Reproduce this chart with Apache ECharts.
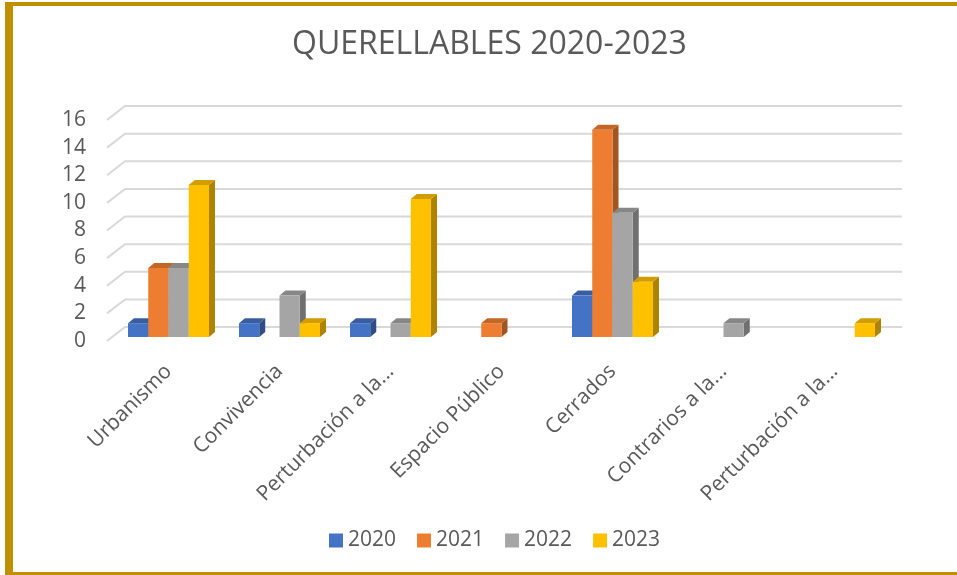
<!DOCTYPE html>
<html>
<head>
<meta charset="utf-8">
<script src="https://cdn.jsdelivr.net/npm/echarts@6/dist/echarts.min.js"></script>
<style>
  html, body { margin: 0; padding: 0; background: #fff; }
  #chart { width: 957px; height: 575px; }
</style>
</head>
<body>
<div id="chart"></div>
<script>
const categories = ['Urbanismo', 'Convivencia', 'Perturbación a la...', 'Espacio Público', 'Cerrados', 'Contrarios a la...', 'Perturbación a la...']
const years = ['2020', '2021', '2022', '2023']
const v2020 = [1, 1, 1, 0, 3, 0, 0]
const v2021 = [5, 0, 0, 1, 15, 0, 0]
const v2022 = [5, 3, 1, 0, 9, 1, 0]
const v2023 = [11, 1, 10, 0, 4, 0, 1]
const yTicks = [0, 2, 4, 6, 8, 10, 12, 14, 16]

const colors = ['#4472C4', '#ED7D31', '#A5A5A5', '#FFC000']
const seriesValues = [v2020, v2021, v2022, v2023]

// darken a hex colour by factor
function shade(hex, f) {
  const n = parseInt(hex.slice(1), 16)
  const r = Math.round(((n >> 16) & 255) * f)
  const g = Math.round(((n >> 8) & 255) * f)
  const b = Math.round((n & 255) * f)
  return `rgb(${r},${g},${b})`
}

const DX = 6, DY = 5 // bar depth
const GROUP = 0.73

function barSeries(k) {
  const color = colors[k]
  return {
    name: years[k],
    type: 'custom',
    itemStyle: { color },
    z: 3,
    data: seriesValues[k].map((v, i) => [i, v]),
    renderItem: (params, api) => {
      const v = api.value(1)
      if (!v) return null
      const band = api.size([1, 0])[0]
      const bw = band * GROUP / 4
      const top = api.coord([api.value(0), v])
      const base = api.coord([api.value(0), 0])
      const x = top[0] - band * GROUP / 2 + k * bw
      const yt = top[1], yb = base[1]
      return {
        type: 'group',
        children: [
          {
            type: 'polygon',
            shape: { points: [[x + bw, yt], [x + bw + DX, yt - DY], [x + bw + DX, yb - DY], [x + bw, yb]] },
            style: { fill: shade(color, 0.68) },
          },
          {
            type: 'polygon',
            shape: { points: [[x, yt], [x + DX, yt - DY], [x + bw + DX, yt - DY], [x + bw, yt]] },
            style: { fill: shade(color, 0.82) },
          },
          {
            type: 'rect',
            shape: { x: x, y: yt, width: bw, height: yb - yt },
            style: { fill: color },
          },
        ],
      }
    },
  }
}

// back wall gridlines with the diagonal going to the front
const gridSeries = {
  name: 'grid',
  type: 'custom',
  z: 1,
  silent: true,
  data: yTicks.map((t) => [0, t]),
  renderItem: (params, api) => {
    const cs = params.coordSys
    const y = api.coord([0, api.value(1)])[1]
    return {
      type: 'polyline',
      shape: { points: [[cs.x - 6, y + 4], [cs.x + 12, y - 10], [cs.x + cs.width + 12, y - 10]] },
      style: { stroke: '#d9d9d9', lineWidth: 2, fill: 'none' },
    }
  },
}

const chart = echarts.init(document.getElementById('chart'), null, { renderer: 'canvas' })

chart.setOption({
  backgroundColor: '#fff',
  animation: false,
  title: {
    text: 'QUERELLABLES 2020-2023',
    left: 287,
    top: 24,
    textStyle: { fontFamily: 'Open Sans', fontWeight: 'normal', fontSize: 32, color: '#595959' },
  },
  legend: {
    data: years,
    bottom: 19,
    left: 324,
    icon: 'rect',
    itemWidth: 14,
    itemHeight: 14,
    itemGap: 21,
    textStyle: { fontFamily: 'Open Sans', fontSize: 21, color: '#595959' },
  },
  grid: { left: 113, right: 67, top: 116, bottom: 238 },
  xAxis: {
    type: 'category',
    data: categories,
    axisLine: { show: false },
    axisTick: { show: false },
    axisLabel: {
      rotate: 45,
      margin: 31,
      interval: 0,
      fontFamily: 'Open Sans',
      fontSize: 21,
      color: '#595959',
    },
  },
  yAxis: {
    type: 'value',
    min: 0,
    max: 16,
    interval: 2,
    axisLine: { show: false },
    axisTick: { show: false },
    splitLine: { show: false },
    axisLabel: {
      margin: 27,
      fontFamily: 'Open Sans',
      fontSize: 21,
      color: '#595959',
      verticalAlign: 'top',
      lineHeight: 8,
    },
  },
  graphic: [
    { type: 'rect', shape: { x: 5, y: 2, width: 8, height: 573 }, style: { fill: '#BF9000' } },
    { type: 'rect', shape: { x: 5, y: 2, width: 952, height: 4 }, style: { fill: '#BF9000' } },
    { type: 'rect', shape: { x: 5, y: 572, width: 952, height: 3 }, style: { fill: '#BF9000' } },
  ],
  series: [gridSeries, barSeries(0), barSeries(1), barSeries(2), barSeries(3)],
})
</script>
</body>
</html>
